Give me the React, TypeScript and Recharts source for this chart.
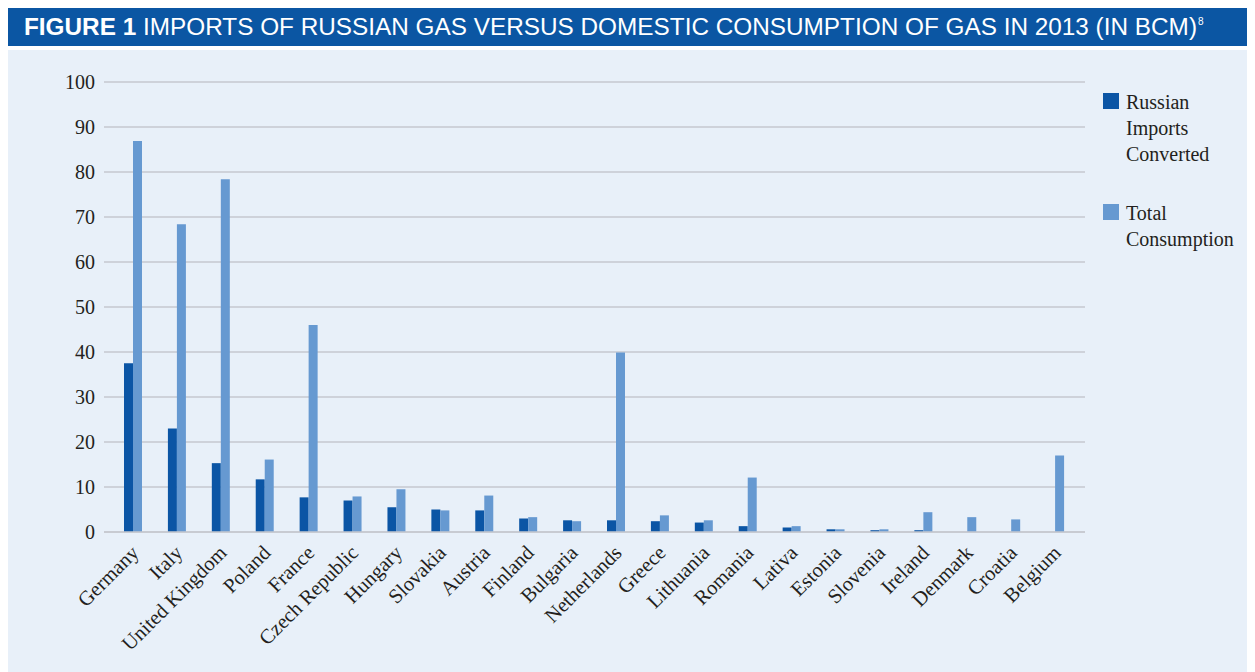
import { BarChart, Bar, XAxis, YAxis, CartesianGrid, Legend } from 'recharts'

const COUNTRIES = [
  'Germany', 'Italy', 'United Kingdom', 'Poland', 'France', 'Czech Republic', 'Hungary',
  'Slovakia', 'Austria', 'Finland', 'Bulgaria', 'Netherlands', 'Greece', 'Lithuania',
  'Romania', 'Lativa', 'Estonia', 'Slovenia', 'Ireland', 'Denmark', 'Croatia', 'Belgium',
]
const RUSSIAN_IMPORTS = [
  37.5, 23.0, 15.3, 11.7, 7.7, 7.0, 5.5, 5.0, 4.8, 3.0, 2.6, 2.6, 2.4, 2.1, 1.3, 1.0,
  0.6, 0.4, 0.4, 0, 0, 0,
]
const TOTAL_CONSUMPTION = [
  86.9, 68.4, 78.4, 16.1, 46.0, 7.9, 9.5, 4.8, 8.1, 3.3, 2.4, 39.9, 3.7, 2.6, 12.1, 1.3,
  0.6, 0.6, 4.4, 3.3, 2.8, 17.0,
]
const Y_TICKS = [0, 10, 20, 30, 40, 50, 60, 70, 80, 90, 100]

const DARK = '#0b55a5'
const LIGHT = '#6699d1'
const SERIF = '"Liberation Serif", "DejaVu Serif", serif'
const INK = '#231f20'

const data = COUNTRIES.map((c, i) => ({
  country: c,
  imports: RUSSIAN_IMPORTS[i],
  total: TOTAL_CONSUMPTION[i],
}))

function CountryTick(props: any) {
  const { x, y, payload } = props
  return (
    <text
      x={x + 7}
      y={y + 14}
      transform={`rotate(-45, ${x + 7}, ${y + 14})`}
      textAnchor="end"
      fontFamily={SERIF}
      fontSize={20.5}
      fill={INK}
    >
      {payload.value}
    </text>
  )
}

function LegendBox() {
  const items = [
    { color: DARK, lines: ['Russian', 'Imports', 'Converted'] },
    { color: LIGHT, lines: ['Total', 'Consumption'] },
  ]
  return (
    <div style={{ fontFamily: SERIF, fontSize: 20, color: INK, lineHeight: '26px' }}>
      {items.map((it, i) => (
        <div key={i} style={{ display: 'flex', marginBottom: i === 0 ? 33 : 0 }}>
          <div style={{ width: 16, height: 16, background: it.color, marginTop: 4, marginRight: 7 }} />
          <div>
            {it.lines.map(l => <div key={l}>{l}</div>)}
          </div>
        </div>
      ))}
    </div>
  )
}

export default function App() {
  return (
    <div style={{ position: 'relative', width: 1247, height: 664, background: '#fff' }}>
      <svg width={1247} height={38} style={{ position: 'absolute', left: 0, top: 0 }}>
        <rect x={0} y={0} width={1247} height={38} fill="#0b56a3" />
        <text
          x={16}
          y={27}
          fill="#fff"
          fontFamily='"Liberation Sans", Arial, sans-serif'
          fontSize={23}
          textLength={1173}
          lengthAdjust="spacingAndGlyphs"
        >
          <tspan fontWeight="bold">FIGURE 1 </tspan>
          <tspan>IMPORTS OF RUSSIAN GAS VERSUS DOMESTIC CONSUMPTION OF GAS IN 2013 (IN BCM)</tspan>
        </text>
        <text x={1190} y={17} fill="#fff" fontFamily='"Liberation Sans", Arial, sans-serif' fontSize={10}>8</text>
      </svg>
      <div style={{ position: 'absolute', left: 0, top: 42, width: 1247, height: 622, background: '#e8f0f9' }}>
        <BarChart
          width={1247}
          height={622}
          data={data}
          margin={{ top: 32, right: 20, bottom: 10, left: 0 }}
          barGap={0}
          barSize={9}
        >
          <CartesianGrid vertical={false} stroke="#c6c9cf" strokeWidth={1.5} />
          <XAxis
            dataKey="country"
            interval={0}
            height={130}
            tick={<CountryTick />}
            tickLine={false}
            axisLine={{ stroke: '#c6c9cf', strokeWidth: 1.5 }}
            padding={{ left: 7, right: 8 }}
          />
          <YAxis
            width={96}
            domain={[0, 100]}
            ticks={Y_TICKS}
            tickLine={false}
            axisLine={false}
            tickMargin={3}
            tick={{ fontFamily: SERIF, fontSize: 20, fill: INK }}
          />
          <Legend
            layout="vertical"
            verticalAlign="top"
            align="right"
            content={<LegendBox />}
            wrapperStyle={{ left: 1095, top: 39, width: 150 }}
          />
          <Bar dataKey="imports" name="Russian Imports Converted" fill={DARK} isAnimationActive={false} />
          <Bar dataKey="total" name="Total Consumption" fill={LIGHT} isAnimationActive={false} />
        </BarChart>
      </div>
    </div>
  )
}
